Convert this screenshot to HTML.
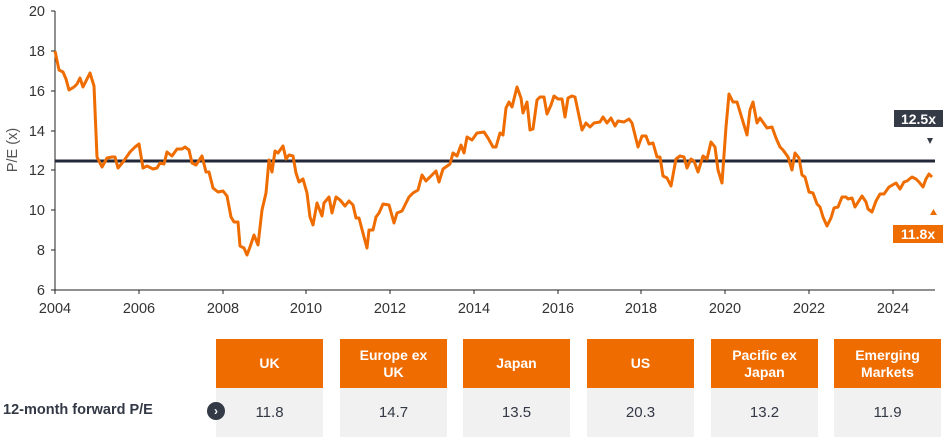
<!DOCTYPE html>
<html><head><meta charset="utf-8"><style>
body{margin:0;width:948px;height:443px;background:#fff;overflow:hidden;font-family:"Liberation Sans",sans-serif;}
.c{position:absolute;width:107px;}
.h{top:339px;height:49px;background:#ef6c00;color:#fff;font-weight:bold;font-size:14px;display:flex;align-items:center;justify-content:center;text-align:center;line-height:17px;}
.v{top:388px;height:49px;background:#f1f1f1;color:#333845;font-size:15px;display:flex;align-items:center;justify-content:center;}
</style></head><body>
<svg width="948" height="443" style="position:absolute;left:0;top:0" font-family="Liberation Sans, sans-serif">
<g stroke="#222" stroke-width="1">
<line x1="55" y1="11" x2="55" y2="290"/><line x1="55" y1="290" x2="935" y2="290"/>
<line x1="51" y1="11" x2="55" y2="11"/><line x1="51" y1="51" x2="55" y2="51"/><line x1="51" y1="91" x2="55" y2="91"/><line x1="51" y1="131" x2="55" y2="131"/><line x1="51" y1="170" x2="55" y2="170"/><line x1="51" y1="210" x2="55" y2="210"/><line x1="51" y1="250" x2="55" y2="250"/><line x1="51" y1="290" x2="55" y2="290"/>
<line x1="55" y1="290" x2="55" y2="294"/><line x1="139" y1="290" x2="139" y2="294"/><line x1="223" y1="290" x2="223" y2="294"/><line x1="306" y1="290" x2="306" y2="294"/><line x1="390" y1="290" x2="390" y2="294"/><line x1="474" y1="290" x2="474" y2="294"/><line x1="558" y1="290" x2="558" y2="294"/><line x1="641" y1="290" x2="641" y2="294"/><line x1="725" y1="290" x2="725" y2="294"/><line x1="809" y1="290" x2="809" y2="294"/><line x1="893" y1="290" x2="893" y2="294"/>
</g>
<g font-size="14.5" fill="#333" text-anchor="end">
<text x="45" y="16">20</text><text x="45" y="56">18</text><text x="45" y="96">16</text><text x="45" y="136">14</text><text x="45" y="175">12</text><text x="45" y="215">10</text><text x="45" y="255">8</text><text x="45" y="295">6</text>
</g>
<g font-size="14.5" fill="#333" text-anchor="middle">
<text x="55" y="313">2004</text><text x="139" y="313">2006</text><text x="223" y="313">2008</text><text x="306" y="313">2010</text><text x="390" y="313">2012</text><text x="474" y="313">2014</text><text x="558" y="313">2016</text><text x="641" y="313">2018</text><text x="725" y="313">2020</text><text x="809" y="313">2022</text><text x="893" y="313">2024</text>
</g>
<text transform="translate(17,150) rotate(-90)" font-size="14.5" fill="#555" text-anchor="middle">P/E (x)</text>
<line x1="55" y1="161" x2="935" y2="161" stroke="#232838" stroke-width="3"/>
<polyline fill="none" stroke="#ef6c00" stroke-width="3" stroke-linejoin="round" points="55,51 59,70 63,72 66,79 69,90 74,87 77,84 80,78 83,87 90,73 94,86 97,157 102,167 107,158 112,157 115,157 118,168 123,162 130,152 135,147 139,144 143,168 147,166 153,169 157,168 160,163 164,164 167,152 172,156 177,149 182,149 185,147 189,150 192,163 196,165 202,156 206,172 209,172 213,188 218,192 223,191 227,196 231,217 234,222 238,222 240,246 244,248 247,255 250,247 254,235 258,245 262,210 266,193 269,160 272,172 275,151 278,153 283,146 286,159 289,155 293,156 296,173 299,182 303,179 307,193 310,217 313,225 317,203 322,216 324,203 329,197 332,213 336,197 340,200 345,206 349,201 353,205 356,218 359,218 364,237 367,248 369,230 373,230 376,217 379,213 383,204 389,205 394,223 397,213 402,211 409,197 413,193 418,190 422,175 426,181 436,171 439,182 443,169 450,164 453,153 457,156 461,145 464,153 467,137 472,140 477,133 484,132 488,138 493,147 496,147 500,133 503,135 506,108 509,102 512,107 517,87 521,98 523,113 527,102 530,130 533,129 537,100 540,97 544,97 547,114 551,105 554,96 558,99 562,99 565,117 568,98 572,96 575,97 582,130 586,123 590,127 594,123 600,122 603,117 607,123 611,118 615,126 618,121 624,122 629,119 632,123 638,147 642,136 646,136 649,144 653,143 657,157 660,157 663,176 667,178 671,186 676,159 680,156 684,157 687,168 691,159 694,161 698,172 703,156 707,159 711,142 715,147 718,170 722,183 726,127 729,94 733,102 737,102 747,135 750,110 753,102 757,123 760,118 767,128 772,127 776,138 780,147 783,150 788,157 792,170 795,153 799,158 802,175 805,177 809,192 813,193 817,204 820,207 823,217 827,226 831,218 834,208 838,207 842,197 846,197 848,199 852,198 855,207 862,196 866,202 868,209 872,212 876,201 880,194 884,194 889,187 896,183 900,189 904,182 907,181 912,177 916,179 919,182 923,187 926,179 929,174 932,177"/>
<rect x="894" y="110" width="49" height="17" fill="#343a46"/>
<text x="918.5" y="124" font-size="14" font-weight="bold" fill="#fff" text-anchor="middle">12.5x</text>
<polygon points="927,138 933,138 930,144" fill="#343a46"/>
<polygon points="930,215 937,215 933.5,209" fill="#ef6c00"/>
<rect x="893" y="225" width="50" height="18" fill="#ef6c00"/>
<text x="918" y="239" font-size="14" font-weight="bold" fill="#fff" text-anchor="middle">11.8x</text>
</svg>
<div style="position:absolute;left:3px;top:402px;font-size:14.5px;font-weight:bold;color:#333845;">12-month forward P/E</div>
<div class="c h" style="left:216px">UK</div><div class="c v" style="left:216px">11.8</div>
<div class="c h" style="left:340px">Europe ex<br>UK</div><div class="c v" style="left:340px">14.7</div>
<div class="c h" style="left:463px">Japan</div><div class="c v" style="left:463px">13.5</div>
<div class="c h" style="left:587px">US</div><div class="c v" style="left:587px">20.3</div>
<div class="c h" style="left:711px">Pacific ex<br>Japan</div><div class="c v" style="left:711px">13.2</div>
<div class="c h" style="left:834px">Emerging<br>Markets</div><div class="c v" style="left:834px">11.9</div>
<div style="position:absolute;left:207px;top:402px;width:18px;height:18px;border-radius:50%;background:#343a46;color:#fff;font-size:12px;font-weight:bold;line-height:18px;text-align:center;">›</div>
</body></html>
